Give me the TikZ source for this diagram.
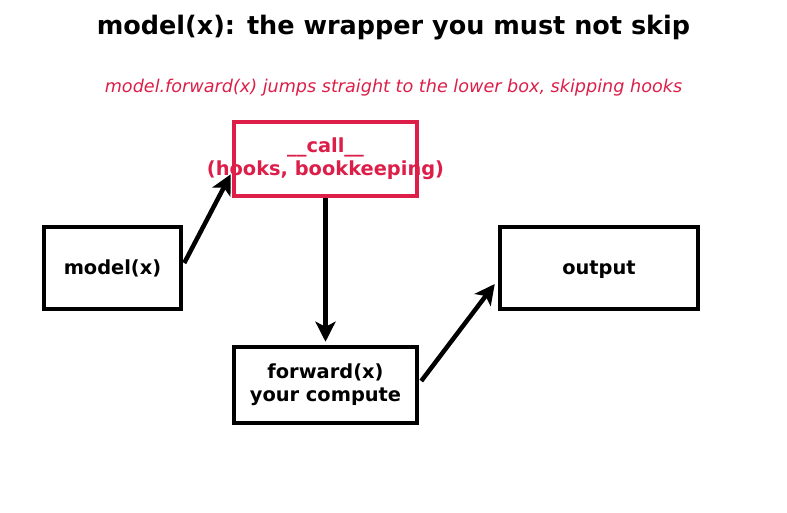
\documentclass[tikz,border=0pt]{standalone}
\usepackage{fontspec}
\setmainfont{DejaVu Sans}
\usetikzlibrary{arrows.meta,calc}
\definecolor{crim}{RGB}{220,30,72}

\begin{document}
\begin{tikzpicture}[x=1pt,y=-1pt,
      box/.style={draw,line width=4.5pt,minimum width=137pt,minimum height=82pt,inner sep=0pt},
      lbl/.style={font=\fontsize{19.4}{23}\selectfont\bfseries,align=center},
      arr/.style={-{Stealth[length=20pt,width=20pt,inset=5pt]},line width=4.5pt}]
      \useasboundingbox (0,0) rectangle (787,512);
      \node[font=\fontsize{25.5}{30}\selectfont\bfseries] (title) at (393.5,28) {model(x): the wrapper you must not skip};
      \node[font=\fontsize{17.6}{20}\selectfont\itshape,text=crim] (sub) at (393.5,88) {model.forward(x) jumps straight to the lower box, skipping hooks};
      \node[box] (mx) at (112.5,268) {};
      \node[box,draw=crim,minimum width=183pt,minimum height=74pt] (call) at (325.5,159) {};
      \node[box,minimum width=183pt,minimum height=76pt] (fwd) at (325.5,385) {};
      \node[box,minimum width=198pt] (out) at (599,268) {};
      \node[lbl] (mxt) at (mx) {model(x)};
      \node[lbl,text=crim] (callt) at (call) {\_\_call\_\_\\(hooks, bookkeeping)};
      \node[lbl] (fwdt) at (fwd) {forward(x)\\your compute};
      \node[lbl,yshift=-2pt] (outt) at (out) {output};
      \draw[arr] ($(mx.east)+(1,-5)$)--($(call.south west)+(-1,-24)$);
      \draw[arr,shorten >=3pt] (call.south)--(fwd.north);
      \draw[arr] ($(fwd.east)+(2,-4)$)--($(out.west)+(-3,16)$);
    \end{tikzpicture}
\end{document}
